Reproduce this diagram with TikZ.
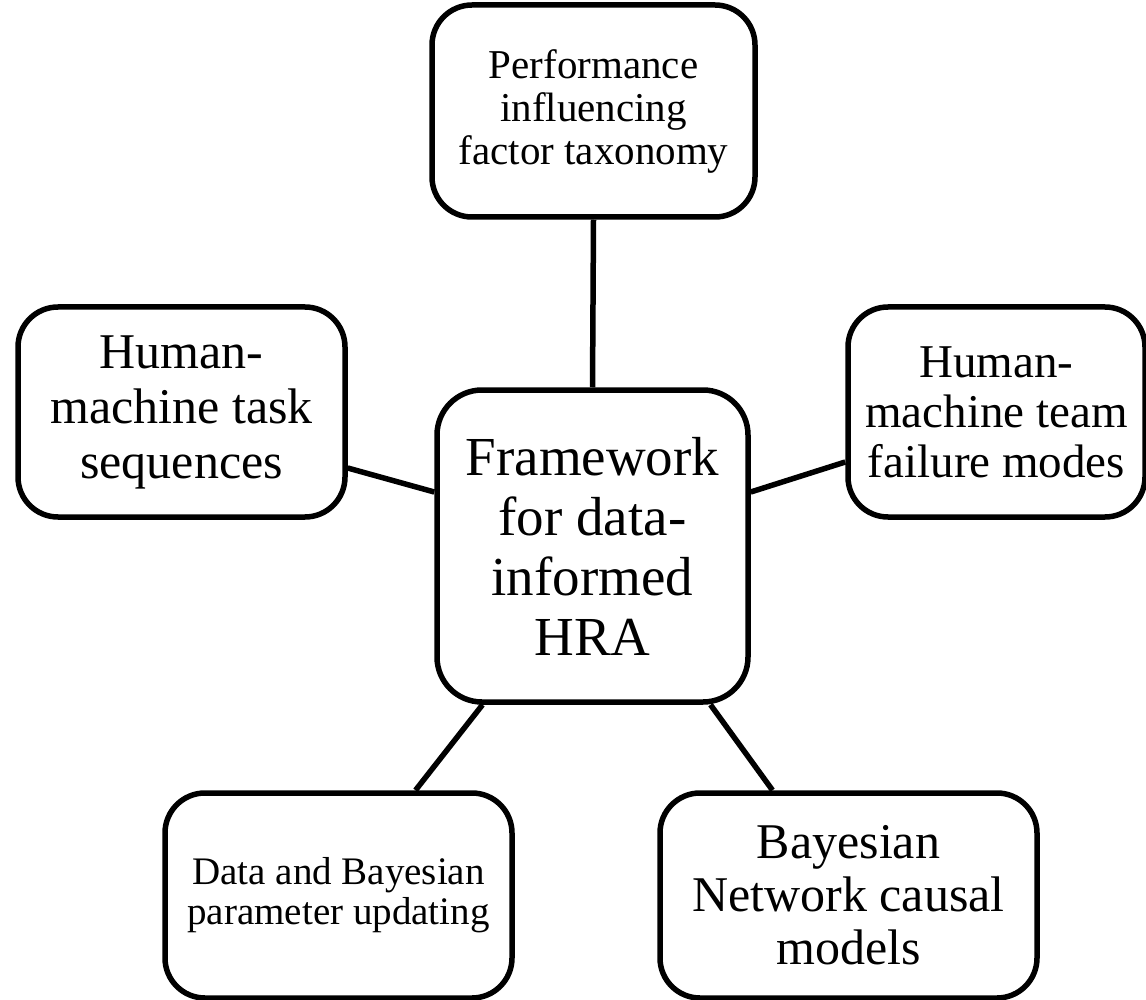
\documentclass[tikz,border=0pt]{standalone}
\usepackage{fontspec}
\setmainfont{Liberation Serif}
\usetikzlibrary{calc}
\tikzset{
  box/.style={draw=black, line width=5.5pt, rounded corners=40pt, fill=white,
    align=center, inner sep=0pt},
  link/.style={draw=black, line width=5.5pt},
}
\begin{document}
\begin{tikzpicture}[x=1pt,y=-1pt]
\useasboundingbox (0,0) rectangle (1146,1000);

% central concept
\node[box, rounded corners=45pt, minimum width=311pt, minimum height=312pt,
  font=\fontsize{55}{60}\selectfont] (c) at (592.5,546)
  {Framework\\for data-\\informed\\HRA};

% surrounding components
\node[box, minimum width=323pt, minimum height=212pt,
  font=\fontsize{41}{43}\selectfont] (t) at (593.5,111)
  {Performance\\influencing\\factor taxonomy};
\node[box, minimum width=327pt, minimum height=210pt,
  font=\fontsize{50}{55}\selectfont] (l) at (181.5,412)
  {Human-\\machine task\\sequences};
\node[box, minimum width=297pt, minimum height=210pt,
  font=\fontsize{47}{50}\selectfont] (r) at (996.5,412)
  {Human-\\machine team\\failure modes};
\node[box, minimum width=347pt, minimum height=205pt,
  font=\fontsize{39}{40}\selectfont] (bl) at (338.5,895.5)
  {Data and Bayesian\\parameter updating};
\node[box, minimum width=377pt, minimum height=205pt,
  font=\fontsize{50}{53}\selectfont] (br) at (848.5,895.5)
  {Bayesian\\Network causal\\models};

% connectors
\draw[link] (t.south) -- (c.north);
\draw[link] ($(l.east)+(0,56)$) -- ($(c.west)+(0,-54)$);
\draw[link] ($(c.east)+(0,-54)$) -- ($(r.west)+(0,50)$);
\draw[link] ($(c.south)+(-110,0)$) -- ($(bl.north)+(77,0)$);
\draw[link] ($(c.south)+(118,0)$) -- ($(br.north)+(-76,0)$);
\end{tikzpicture}
\end{document}
